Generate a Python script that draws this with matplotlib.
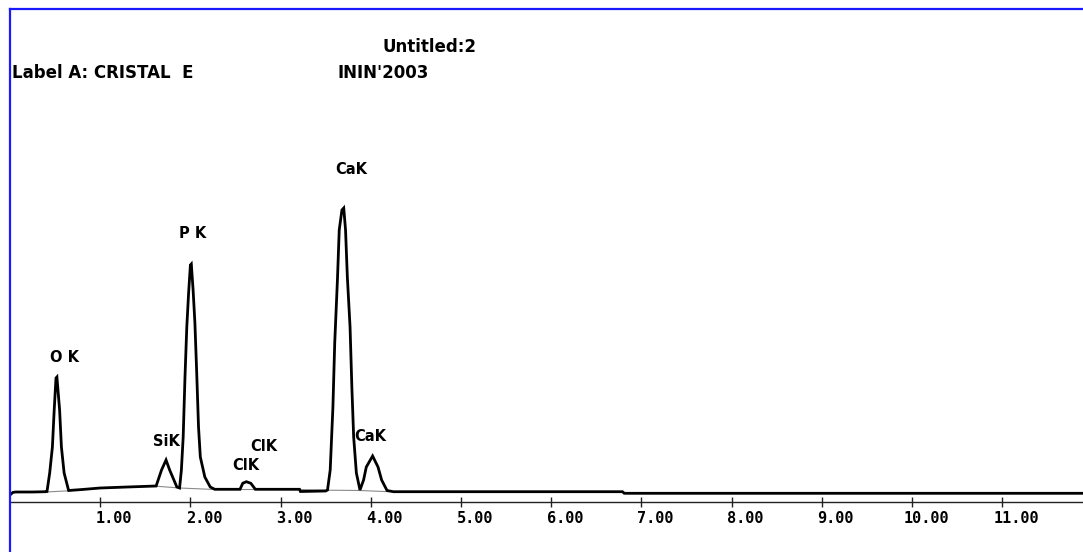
import matplotlib
matplotlib.use("Agg")
import matplotlib.pyplot as plt
from matplotlib.lines import Line2D
from matplotlib.transforms import ScaledTranslation

# EDS spectrum outline (energy in keV, counts)
energy_kev = [0.00, 0.03, 0.06, 0.25, 0.40,
              0.41, 0.44, 0.47, 0.49, 0.51, 0.52, 0.55, 0.57, 0.60, 0.65,
              0.80, 1.00, 1.30, 1.62,
              1.68, 1.73, 1.77, 1.85, 1.88,
              1.90, 1.92, 1.94, 1.96, 1.98, 2.00, 2.01, 2.03, 2.05, 2.07,
              2.09, 2.11, 2.16, 2.22, 2.27,
              2.55, 2.58, 2.62, 2.67, 2.72,
              3.21, 3.22, 3.50, 3.52,
              3.55, 3.58, 3.60, 3.63, 3.65, 3.68, 3.70, 3.72, 3.74, 3.77,
              3.79, 3.81, 3.84, 3.88,
              3.92, 3.95, 4.02, 4.08, 4.12, 4.18, 4.25,
              6.79, 6.81, 11.90]
counts = [70, 95, 100, 100, 103,
          105, 290, 550, 920, 1240, 1250, 920, 550, 290, 115,
          125, 140, 150, 160,
          320, 420, 320, 150, 140,
          320, 650, 1250, 1750, 2090, 2370, 2380, 2120, 1790, 1290,
          750, 450, 250, 150, 127,
          127, 187, 203, 187, 127,
          127, 105, 110, 120,
          320, 950, 1590, 2220, 2720, 2920, 2940, 2720, 2250, 1750,
          1150, 650, 290, 120,
          220, 350, 460, 350, 220, 115, 103,
          103, 87, 87]

# fitted background under the peaks
bg_kev = [0.05, 0.40, 0.65, 1.00, 1.62, 1.88, 2.27, 3.21, 3.52, 3.88, 4.20]
bg_counts = [98, 100, 112, 138, 158, 140, 125, 125, 118, 115, 103]

# peak labels: (text, keV, counts)
peak_labels = ["O K", "SiK", "P K", "ClK", "ClK", "CaK", "CaK"]
label_kev = [0.60, 1.73, 2.03, 2.61, 2.81, 3.78, 3.99]
label_counts = [1450, 603, 2690, 360, 553, 3320, 653]

tick_vals = [1, 2, 3, 4, 5, 6, 7, 8, 9, 10, 11]
tick_text = [f"{v:.2f}" for v in tick_vals]

W, H, DPI = 1083, 552, 100
fig = plt.figure(figsize=(W / DPI, H / DPI), dpi=DPI, facecolor="white")

ax = fig.add_axes([10 / W, 50 / H, 1 - 10 / W, 472 / H])
ax.set_xlim(0, 1073 / 90.2)
ax.set_ylim(0, 4720)
ax.patch.set_visible(False)
for side in ("top", "left", "right"):
    ax.spines[side].set_visible(False)
ax.spines["bottom"].set_color("#222222")
ax.spines["bottom"].set_linewidth(1.0)
ax.set_yticks([])

ax.plot(bg_kev, bg_counts, color="#8a8a8a", lw=0.8, zorder=2)
ax.plot(energy_kev, counts, color="black", lw=2.0, zorder=3,
        solid_joinstyle="miter")

for txt, xk, yc in zip(peak_labels, label_kev, label_counts):
    ax.text(xk, yc, txt, ha="center", va="center", fontsize=10.5,
            fontweight="bold", family="DejaVu Sans", color="black")

ax.set_xticks(tick_vals)
ax.set_xticklabels(tick_text, family="DejaVu Sans Mono", fontweight="bold",
                   fontsize=11)
ax.tick_params(axis="x", direction="inout", length=7, width=1.0,
               color="#222222", pad=3)
shift = ScaledTranslation(14 / DPI, 0, fig.dpi_scale_trans)
for lab in ax.get_xticklabels():
    lab.set_transform(lab.get_transform() + shift)

# header texts
fig.text(429 / W, 1 - 46.7 / H, "Untitled:2", ha="center", va="center",
         fontsize=12, fontweight="bold", family="DejaVu Sans")
fig.text(12 / W, 1 - 72.7 / H, "Label A: CRISTAL  E", ha="left", va="center",
         fontsize=12, fontweight="bold", family="DejaVu Sans")
fig.text(337 / W, 1 - 72.7 / H, "ININ'2003", ha="left", va="center",
         fontsize=12, fontweight="bold", family="DejaVu Sans")

# blue window frame (top and left edges)
fig.add_artist(Line2D([9.5 / W, 1.0], [1 - 8.5 / H, 1 - 8.5 / H],
                      transform=fig.transFigure, color="#1a1aff", lw=1.6))
fig.add_artist(Line2D([9.5 / W, 9.5 / W], [0.0, 1 - 8.5 / H],
                      transform=fig.transFigure, color="#1a1aff", lw=1.6))

fig.savefig("out.png", dpi=DPI, facecolor="white")
